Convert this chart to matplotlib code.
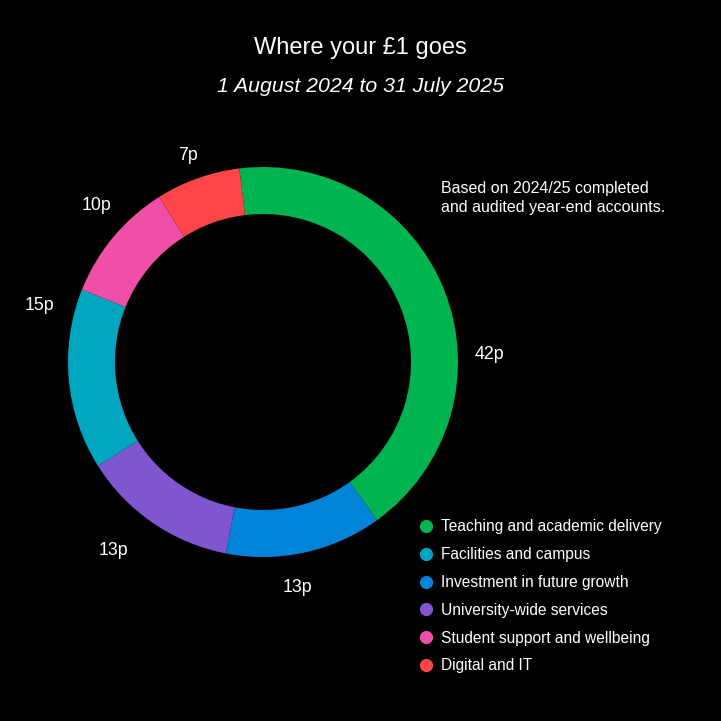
import numpy as np
import matplotlib.pyplot as plt
from matplotlib.lines import Line2D

# Data, in the order the ring is drawn (clockwise from the top)
categories = ['Teaching and academic delivery', 'Investment in future growth',
              'University-wide services', 'Facilities and campus',
              'Student support and wellbeing', 'Digital and IT']
pence = [42, 13, 13, 15, 10, 7]
colours = ['#00b450', '#0084da', '#7f56d0', '#00a5c0', '#ef4fa6', '#ff4548']

legendOrder = ['Teaching and academic delivery', 'Facilities and campus',
               'Investment in future growth', 'University-wide services',
               'Student support and wellbeing', 'Digital and IT']

titleText = 'Where your £1 goes'
subtitleText = '1 August 2024 to 31 July 2025'
noteText = 'Based on 2024/25 completed\nand audited year-end accounts.'

plt.rcParams['font.family'] = ['Liberation Sans', 'DejaVu Sans']

fig = plt.figure(figsize=(7.21, 7.21), dpi=100, facecolor='black')
ax = fig.add_axes([0, 0, 1, 1])
ax.set_facecolor('black')

# ring geometry in pixel units (y flipped so it reads like the picture)
centreX, centreY = 263, 721 - 362
outerRadius = 195
ringWidth = 47

wedges, _ = ax.pie(pence, colors=colours, startangle=97, counterclock=False,
                   radius=outerRadius, center=(centreX, centreY),
                   wedgeprops=dict(width=ringWidth, linewidth=0))

# label angles (degrees) and distances picked to sit where the reference puts them
labelAngles = [1.8, 278.8, 231.6, 165.9, 136.8, 109.9]
labelRadii = [227, 228, 241, 230, 228, 220]
for p, ang, rad in zip(pence, labelAngles, labelRadii):
    a = np.deg2rad(ang)
    ax.text(centreX + rad * np.cos(a), centreY + rad * np.sin(a), f'{p}p',
            color='white', fontsize=12.8, ha='center', va='center')

ax.set_xlim(0, 721)
ax.set_ylim(0, 721)
ax.set_aspect('equal')
ax.axis('off')

fig.text(0.5, 1 - 48 / 721, titleText, color='white', fontsize=17,
         ha='center', va='center')
fig.text(0.5, 1 - 87 / 721, subtitleText, color='white', fontsize=15.3,
         style='italic', ha='center', va='center')
fig.text(441 / 721, 1 - 198 / 721, noteText, color='white', fontsize=11.5,
         ha='left', va='center', linespacing=1.38)

colourFor = dict(zip(categories, colours))
handles = [Line2D([], [], marker='o', linestyle='none', markersize=9.5,
                  markerfacecolor=colourFor[c], markeredgewidth=0)
           for c in legendOrder]
leg = ax.legend(handles, legendOrder, loc='upper left',
                bbox_to_anchor=(419 / 721, 1 - 519.5 / 721),
                frameon=False, fontsize=11.2, labelcolor='white',
                handlelength=0.9, handletextpad=0.5, labelspacing=0.82,
                borderpad=0, borderaxespad=0)

fig.savefig('out.png', dpi=100, facecolor='black')
